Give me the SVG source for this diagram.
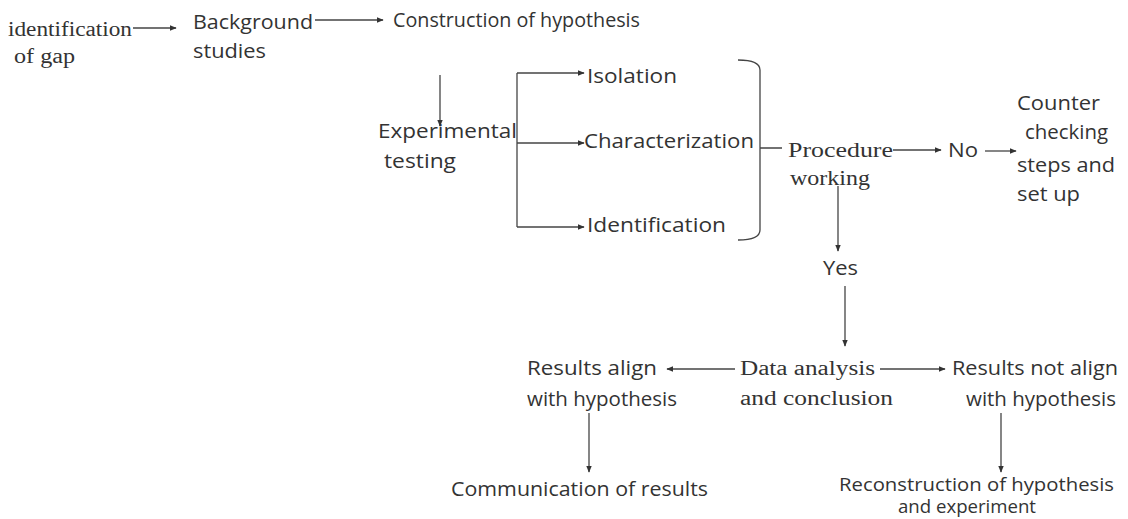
<svg xmlns="http://www.w3.org/2000/svg" width="1128" height="519" viewBox="0 0 1128 519">
<defs>
<marker id="ah" viewBox="0 0 10 10" refX="9" refY="5" markerWidth="7" markerHeight="7" markerUnits="userSpaceOnUse" orient="auto">
<path d="M0,1 L10,5 L0,9 Z" fill="#333"/>
</marker>
<style>
.s{font-family:"Open Sans","Liberation Sans",sans-serif;font-size:19.5px;fill:#333}
.t{font-family:"Open Sans","Liberation Sans",sans-serif;font-size:17.5px;fill:#333}
.r{font-family:"Liberation Serif","Times New Roman",serif;font-size:20px;fill:#333}
.c{stroke:#444;stroke-width:1.3;fill:none}
.a{marker-end:url(#ah)}
</style>
</defs>
<rect width="1128" height="519" fill="#fff"/>
<g id="connectors">
<line class="c a" x1="133" y1="28" x2="176" y2="28"/>
<line class="c a" x1="315" y1="20" x2="383" y2="20"/>
<line class="c a" x1="440" y1="75" x2="440" y2="126"/>
<path class="c" d="M517,73 V227"/>
<line class="c a" x1="517" y1="73" x2="584" y2="73"/>
<line class="c a" x1="517" y1="143" x2="584" y2="143"/>
<line class="c a" x1="517" y1="227" x2="584" y2="227"/>
<path class="c" d="M738,60 Q760,60 760,70 V230 Q760,240 738,240 M760,148 H782"/>
<line class="c a" x1="893" y1="150" x2="941" y2="150"/>
<line class="c a" x1="985" y1="151" x2="1016" y2="151"/>
<line class="c a" x1="838" y1="186" x2="838" y2="251"/>
<line class="c a" x1="845" y1="286" x2="845" y2="346"/>
<line class="c a" x1="735" y1="369" x2="667" y2="369"/>
<line class="c a" x1="880" y1="369" x2="945" y2="369"/>
<line class="c a" x1="589" y1="413" x2="589" y2="472"/>
<line class="c a" x1="1001" y1="413" x2="1001" y2="472"/>
</g>
<g id="n-gap"><text class="r" x="8" y="36" textLength="124" lengthAdjust="spacingAndGlyphs">identification</text><text class="r" x="14" y="63" textLength="61" lengthAdjust="spacingAndGlyphs">of gap</text></g>
<g id="n-background"><text class="s" x="193" y="29" textLength="120" lengthAdjust="spacingAndGlyphs">Background</text><text class="s" x="193" y="58" textLength="73" lengthAdjust="spacingAndGlyphs">studies</text></g>
<g id="n-construction"><text class="s" x="393" y="27" textLength="247" lengthAdjust="spacingAndGlyphs">Construction of hypothesis</text></g>
<g id="n-experimental"><text class="s" x="378" y="138" textLength="139" lengthAdjust="spacingAndGlyphs">Experimental</text><text class="s" x="384" y="168" textLength="72" lengthAdjust="spacingAndGlyphs">testing</text></g>
<g id="n-isolation"><text class="s" x="587" y="83" textLength="90" lengthAdjust="spacingAndGlyphs">Isolation</text></g>
<g id="n-characterization"><text class="s" x="584" y="148" textLength="170" lengthAdjust="spacingAndGlyphs">Characterization</text></g>
<g id="n-identification"><text class="s" x="587" y="232" textLength="139" lengthAdjust="spacingAndGlyphs">Identification</text></g>
<g id="n-procedure"><text class="r" x="788" y="157" textLength="105" lengthAdjust="spacingAndGlyphs">Procedure</text><text class="r" x="790" y="185" textLength="80" lengthAdjust="spacingAndGlyphs">working</text></g>
<g id="n-no"><text class="s" x="948" y="157" textLength="30" lengthAdjust="spacingAndGlyphs">No</text></g>
<g id="n-counter"><text class="s" x="1017" y="110" textLength="83" lengthAdjust="spacingAndGlyphs">Counter</text><text class="s" x="1025" y="139" textLength="83" lengthAdjust="spacingAndGlyphs">checking</text><text class="s" x="1017" y="172" textLength="98" lengthAdjust="spacingAndGlyphs">steps and</text><text class="s" x="1017" y="201" textLength="63" lengthAdjust="spacingAndGlyphs">set up</text></g>
<g id="n-yes"><text class="s" x="823" y="275" textLength="35" lengthAdjust="spacingAndGlyphs">Yes</text></g>
<g id="n-data"><text class="r" x="740" y="375" textLength="135" lengthAdjust="spacingAndGlyphs">Data analysis</text><text class="r" x="740" y="405" textLength="153" lengthAdjust="spacingAndGlyphs">and conclusion</text></g>
<g id="n-align"><text class="s" x="527" y="375" textLength="130" lengthAdjust="spacingAndGlyphs">Results align</text><text class="s" x="527" y="406" textLength="150" lengthAdjust="spacingAndGlyphs">with hypothesis</text></g>
<g id="n-notalign"><text class="s" x="952" y="375" textLength="166" lengthAdjust="spacingAndGlyphs">Results not align</text><text class="s" x="966" y="406" textLength="150" lengthAdjust="spacingAndGlyphs">with hypothesis</text></g>
<g id="n-communication"><text class="s" x="451" y="496" textLength="257" lengthAdjust="spacingAndGlyphs">Communication of results</text></g>
<g id="n-reconstruction"><text class="t" x="839" y="491" textLength="275" lengthAdjust="spacingAndGlyphs">Reconstruction of hypothesis</text><text class="t" x="898" y="513" textLength="138" lengthAdjust="spacingAndGlyphs">and experiment</text></g>
</svg>
